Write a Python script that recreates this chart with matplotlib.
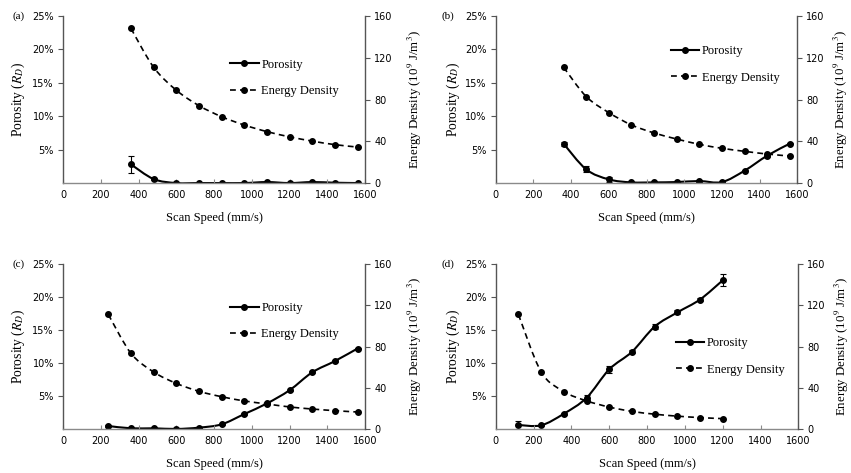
import matplotlib
matplotlib.use("Agg")
import matplotlib.pyplot as plt
import numpy as np
from matplotlib.path import Path
from matplotlib.patches import PathPatch
from matplotlib.lines import Line2D

# scan speeds (mm/s)
speed_a = [360, 480, 600, 720, 840, 960, 1080, 1200, 1320, 1440, 1560]
speed_b = [360, 480, 600, 720, 840, 960, 1080, 1200, 1320, 1440, 1560]
speed_c = [240, 360, 480, 600, 720, 840, 960, 1080, 1200, 1320, 1440, 1560]
speed_d = [120, 240, 360, 480, 600, 720, 840, 960, 1080, 1200]

# porosity (%) and its error
por_a = [2.8, 0.6, 0.0, 0.0, 0.0, 0.0, 0.15, 0.0, 0.15, 0.05, 0.0]
err_a = [1.3, 0.1, 0.0, 0.0, 0.0, 0.0, 0.05, 0.0, 0.05, 0.0, 0.0]
por_b = [5.9, 2.05, 0.55, 0.1, 0.1, 0.15, 0.3, 0.15, 1.85, 4.1, 5.9]
err_b = [0.3, 0.45, 0.4, 0.05, 0.05, 0.05, 0.15, 0.05, 0.1, 0.25, 0.1]
por_c = [0.5, 0.15, 0.15, 0.05, 0.25, 0.75, 2.3, 3.9, 5.9, 8.6, 10.3, 12.2]
err_c = [0.1, 0.05, 0.05, 0.05, 0.05, 0.1, 0.1, 0.1, 0.1, 0.15, 0.1, 0.1]
por_d = [0.65, 0.6, 2.35, 4.75, 9.05, 11.7, 15.5, 17.65, 19.6, 22.5]
err_d = [0.55, 0.1, 0.15, 0.4, 0.55, 0.2, 0.4, 0.3, 0.3, 0.9]

# energy density (10^9 J/m^3)
ed_a = [148.2, 111.0, 89.0, 74.2, 63.6, 55.6, 49.3, 44.3, 40.2, 36.8, 34.5]
ed_b = [111.0, 82.9, 67.5, 55.7, 48.0, 42.2, 37.1, 33.3, 30.4, 27.8, 25.9]
ed_c = [111.0, 73.4, 55.4, 44.4, 36.7, 31.5, 27.4, 24.5, 21.6, 19.6, 18.0, 16.7]
ed_d = [111.0, 55.6, 36.5, 27.5, 21.5, 17.3, 14.6, 12.7, 11.3, 10.3]

panels = [
    ("(a)", speed_a, por_a, err_a, ed_a),
    ("(b)", speed_b, por_b, err_b, ed_b),
    ("(c)", speed_c, por_c, err_c, ed_c),
    ("(d)", speed_d, por_d, err_d, ed_d),
]

# axes boxes in figure fraction [left, bottom, width, height]
boxes = [
    [0.074, 0.613, 0.355, 0.353],
    [0.5825, 0.613, 0.3544, 0.353],
    [0.074, 0.0924, 0.355, 0.350],
    [0.5825, 0.0924, 0.3557, 0.350],
]
# legend anchors (handle start x, middle y) in axes coords
leg_pos = [(0.553, 0.629), (0.58, 0.71), (0.553, 0.653), (0.594, 0.44)]
left_lab_x = [-0.119, -0.112, -0.119, -0.112]
right_lab_x = [1.134, 1.115, 1.134, 1.115]
label_xy = [(12.7, 16), (442, 16), (12.7, 264), (442, 264)]

SERIF = ["Liberation Serif", "DejaVu Serif"]
plt.rcParams["mathtext.fontset"] = "stix"
plt.rcParams["font.family"] = ["DejaVu Sans"]


def smooth_path(x, y):
    # Excel-like smoothed line: cubic bezier through the points
    x = np.asarray(x, float)
    y = np.asarray(y, float)
    pts = np.column_stack([x, y])
    verts = [pts[0]]
    codes = [Path.MOVETO]
    n = len(pts)
    for i in range(n - 1):
        p0 = pts[i - 1] if i > 0 else pts[i]
        p1 = pts[i]
        p2 = pts[i + 1]
        p3 = pts[i + 2] if i + 2 < n else pts[i + 1]
        c1 = p1 + (p2 - p0) / 6.0
        c2 = p2 - (p3 - p1) / 6.0
        verts += [c1, c2, p2]
        codes += [Path.CURVE4] * 3
    return Path(verts, codes)


fig = plt.figure(figsize=(8.51, 4.73), dpi=100)

for i, (tag, spd, por, err, ed) in enumerate(panels):
    ax = fig.add_axes(boxes[i])
    ax2 = ax.twinx()

    ax.add_patch(PathPatch(smooth_path(spd, por), fill=False, lw=1.5, color="black"))
    ax.errorbar(spd, por, yerr=err, fmt="o", color="black", ms=4,
                capsize=2.5, elinewidth=0.8, capthick=0.8)
    ax2.add_patch(PathPatch(smooth_path(spd, ed), fill=False, lw=1.2,
                            color="black", linestyle=(0, (3.5, 2.5))))
    ax2.plot(spd, ed, "o", color="black", ms=4)

    ax.set_xlim(0, 1600)
    ax.set_ylim(0, 25)
    ax2.set_ylim(0, 160)
    ax.set_xticks(range(0, 1601, 200))
    ax.set_yticks([5, 10, 15, 20, 25])
    ax.set_yticklabels([f"{v}%" for v in [5, 10, 15, 20, 25]])
    ax2.set_yticks(range(0, 161, 40))

    for a in (ax, ax2):
        a.spines["top"].set_visible(False)
    ax.spines["right"].set_visible(False)
    ax2.spines["left"].set_visible(False)
    ax2.spines["bottom"].set_visible(False)
    ax.spines["left"].set_color("#555555")
    ax.spines["bottom"].set_color("#8a8a8a")
    ax2.spines["right"].set_color("#555555")
    for a in (ax, ax2):
        for s in a.spines.values():
            s.set_linewidth(1.0)

    ax.tick_params(axis="x", direction="in", length=3, color="#8a8a8a",
                   labelsize=7, pad=5)
    ax.tick_params(axis="y", direction="out", length=3.5, color="#555555",
                   labelsize=7, pad=3)
    ax2.tick_params(axis="y", direction="out", length=3.5, color="#555555",
                    labelsize=7, pad=3)

    ax.set_xlabel("Scan Speed (mm/s)", fontsize=9, family=SERIF)
    ax.xaxis.set_label_coords(0.5, -0.175)
    ax.set_ylabel(r"Porosity ($\mathit{R}_D$)", fontsize=9.8, family=SERIF)
    ax.yaxis.set_label_coords(left_lab_x[i], 0.5)
    ax2.set_ylabel(r"Energy Density (10$^9$ J/m$^3$)", fontsize=9.3, family=SERIF)
    ax2.yaxis.set_label_coords(right_lab_x[i], 0.5)

    handles = [
        Line2D([], [], color="black", lw=1.5, marker="o", ms=4),
        Line2D([], [], color="black", lw=1.2, ls=(0, (3.5, 2.5)), marker="o", ms=4),
    ]
    lx, ly = leg_pos[i]
    ax2.legend(handles, ["Porosity", "Energy Density"], loc="center left",
               bbox_to_anchor=(lx, ly), frameon=False, borderpad=0,
               borderaxespad=0, handlelength=2.3, handletextpad=0.2,
               labelspacing=1.15, prop={"family": SERIF, "size": 9})

    px, py = label_xy[i]
    fig.text(px / 851, 1 - py / 473, tag, fontsize=8, family=SERIF,
             ha="left", va="center")

fig.savefig("out.png", dpi=100)
